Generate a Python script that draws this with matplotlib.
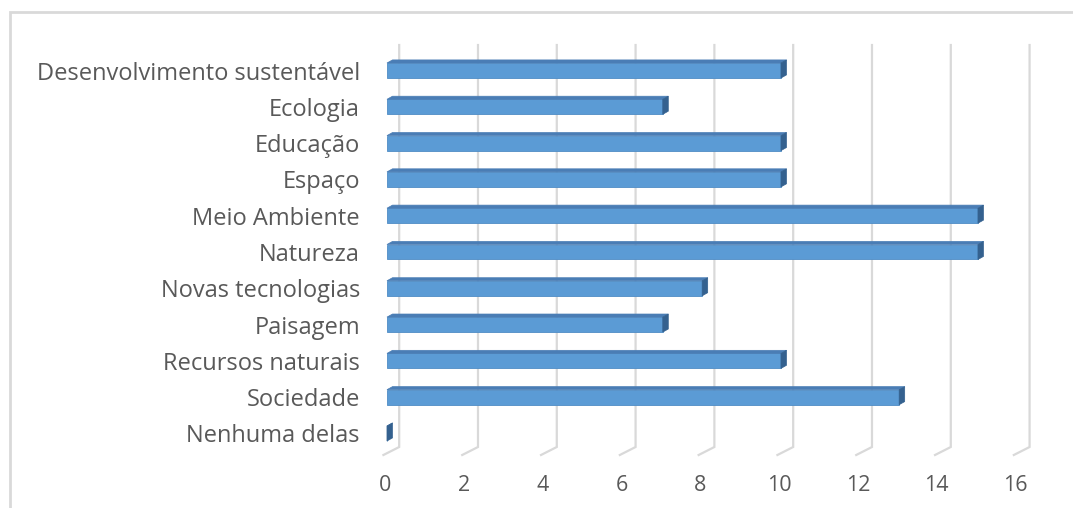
import matplotlib
matplotlib.use("Agg")
import matplotlib.pyplot as plt
from matplotlib.patches import Polygon, Rectangle

categories = [
    "Desenvolvimento sustentável",
    "Ecologia",
    "Educação",
    "Espaço",
    "Meio Ambiente",
    "Natureza",
    "Novas tecnologias",
    "Paisagem",
    "Recursos naturais",
    "Sociedade",
    "Nenhuma delas",
]
values = [10, 7, 10, 10, 15, 15, 8, 7, 10, 13, 0]
xticks = [0, 2, 4, 6, 8, 10, 12, 14, 16]

W, H, DPI = 1073, 508, 100
TEXT = "#595959"
GRID = "#d9d9d9"
FRONT = "#5b9bd5"
TOP = "#4a7db5"
SIDE = "#34618f"

plt.rcParams["font.family"] = ["Open Sans", "DejaVu Sans"]

fig = plt.figure(figsize=(W / DPI, H / DPI), dpi=DPI)
fig.patch.set_facecolor("white")

# light chart-area frame
fig.add_artist(Rectangle((9.5 / W, -0.05), 1.2, (H - 12) / H + 0.05,
                         transform=fig.transFigure, fill=False,
                         edgecolor=GRID, linewidth=2.0))

# axes placement (pixels): value 0 at x=385, 39.4 px per unit;
# category i centred at y = 70.5 + 36.3 * i
x0, sx = 385.0, 39.4
y0, sy = 70.5, 36.3
xlim = (-0.3, 16.8)
ylim = (11.0, -1.0)
left_px = x0 + xlim[0] * sx
right_px = x0 + xlim[1] * sx
top_px = y0 + ylim[1] * sy
bot_px = y0 + ylim[0] * sy
ax = fig.add_axes([left_px / W, 1 - bot_px / H,
                   (right_px - left_px) / W, (bot_px - top_px) / H])
ax.set_xlim(*xlim)
ax.set_ylim(*ylim)
ax.set_facecolor("none")
for s in ax.spines.values():
    s.set_visible(False)

# back-wall gridlines with the short floor diagonal
g_top, g_back, g_front = -0.702, 10.372, 10.592
g_dx_back, g_dx_front = 0.36, -0.04
for t in xticks:
    ax.plot([t + g_dx_back, t + g_dx_back, t + g_dx_front],
            [g_top, g_back, g_front], color=GRID, lw=1.6,
            solid_joinstyle="miter", zorder=1)

# 3D-style bars: front face, top face and right side face
h = 0.413
off = 0.05
ddx, ddy = 0.14, -0.085
ypos = list(range(len(categories)))
ax.barh(ypos, values, left=off, height=h, color=FRONT,
        edgecolor="#4f8cc5", linewidth=0.6, zorder=3)
for i, v in zip(ypos, values):
    yt, yb = i - h / 2, i + h / 2
    top = Polygon([(off, yt), (v + off, yt), (v + off + ddx, yt + ddy),
                   (off + ddx, yt + ddy)], closed=True,
                  facecolor=TOP, edgecolor=TOP, lw=0.5, zorder=4)
    side = Polygon([(v + off, yt), (v + off + ddx, yt + ddy),
                    (v + off + ddx, yb + ddy), (v + off, yb)], closed=True,
                   facecolor=SIDE, edgecolor=SIDE, lw=0.5, zorder=4)
    ax.add_patch(top)
    ax.add_patch(side)

ax.set_yticks(ypos)
ax.set_yticklabels(categories)
ax.set_xticks(xticks)
ax.set_xticklabels([str(t) for t in xticks])
ax.tick_params(axis="y", length=0, pad=9.5, labelsize=17, labelcolor=TEXT)
ax.tick_params(axis="x", length=0, pad=4, labelsize=15.5, labelcolor=TEXT)

fig.savefig("out.png", dpi=DPI, facecolor="white")
